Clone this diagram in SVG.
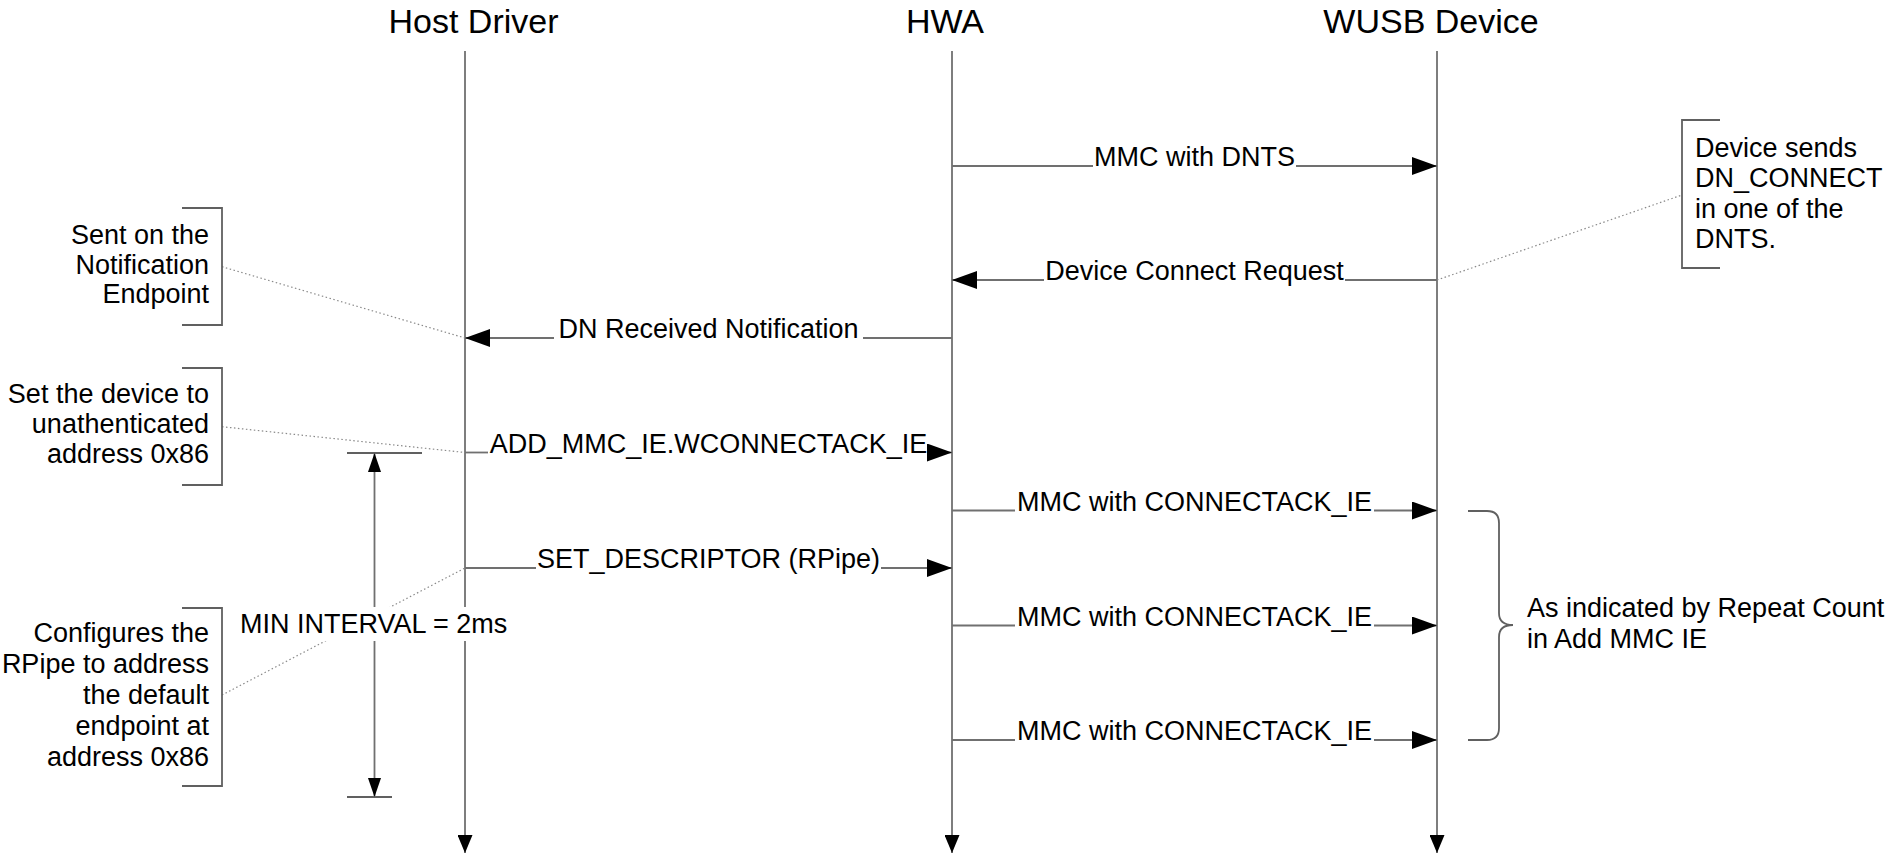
<svg xmlns="http://www.w3.org/2000/svg" width="1893" height="858" viewBox="0 0 1893 858">
<style>
text{font-family:"Liberation Sans",Arial,sans-serif;fill:#000}
.title{font-size:34px;text-anchor:middle}
.lbl{font-size:27px;text-anchor:middle}
.note{font-size:27px}
.nr{text-anchor:end}
.life{stroke:#707070;stroke-width:1.8;fill:none}
.msg{stroke:#707070;stroke-width:1.8;fill:none}
.brk{stroke:#606060;stroke-width:1.8;fill:none}
.lead{stroke:#8a8a8a;stroke-width:1.2;stroke-dasharray:1.5 2.5;fill:none}
</style>
<defs>
<marker id="ah" viewBox="0 0 25 18" refX="25" refY="9" markerWidth="25" markerHeight="18" markerUnits="userSpaceOnUse" orient="auto"><path d="M0,0 L25,9 L0,18 z" fill="#000"/></marker>
<marker id="lah" viewBox="0 0 18 15" refX="18" refY="7.5" markerWidth="18" markerHeight="15" markerUnits="userSpaceOnUse" orient="auto"><path d="M0,0 L18,7.5 L0,15 z" fill="#000"/></marker>
<marker id="iah" viewBox="0 0 19 13" refX="19" refY="6.5" markerWidth="19" markerHeight="13" markerUnits="userSpaceOnUse" orient="auto-start-reverse"><path d="M0,0 L19,6.5 L0,13 z" fill="#000"/></marker>
</defs>
<rect width="1893" height="858" fill="#fff"/>

<g id="host-driver">
<text class="title" x="473.5" y="33">Host Driver</text>
<line class="life" x1="465" y1="51" x2="465" y2="853" marker-end="url(#lah)"/>
</g>
<g id="hwa">
<text class="title" x="945" y="33">HWA</text>
<line class="life" x1="952" y1="51" x2="952" y2="853" marker-end="url(#lah)"/>
</g>
<g id="wusb-device">
<text class="title" x="1431" y="33">WUSB Device</text>
<line class="life" x1="1437" y1="51" x2="1437" y2="853" marker-end="url(#lah)"/>
</g>

<g id="leaders">
<line class="lead" x1="222" y1="266.7" x2="465" y2="338"/>
<line class="lead" x1="222" y1="426.7" x2="465" y2="452.5"/>
<line class="lead" x1="222" y1="695" x2="465" y2="568"/>
<line class="lead" x1="1437" y1="280" x2="1682" y2="195"/>
</g>

<g id="connectors">
<line class="msg" x1="952" y1="166" x2="1093" y2="166"/>
<line class="msg" x1="1296" y1="166" x2="1437" y2="166" marker-end="url(#ah)"/>
<text class="lbl" x="1194.5" y="166">MMC with DNTS</text>

<line class="msg" x1="1437" y1="280" x2="1345" y2="280"/>
<line class="msg" x1="1044" y1="280" x2="952" y2="280" marker-end="url(#ah)"/>
<text class="lbl" x="1194.5" y="280">Device Connect Request</text>

<line class="msg" x1="952" y1="338" x2="863" y2="338"/>
<line class="msg" x1="554" y1="338" x2="465" y2="338" marker-end="url(#ah)"/>
<text class="lbl" x="708.5" y="338">DN Received Notification</text>

<line class="msg" x1="465" y1="452.5" x2="488" y2="452.5"/>
<line class="msg" x1="929" y1="452.5" x2="952" y2="452.5" marker-end="url(#ah)"/>
<text class="lbl" x="708.5" y="452.5">ADD_MMC_IE.WCONNECTACK_IE</text>

<line class="msg" x1="952" y1="510.5" x2="1015" y2="510.5"/>
<line class="msg" x1="1374" y1="510.5" x2="1437" y2="510.5" marker-end="url(#ah)"/>
<text class="lbl" x="1194.5" y="510.5">MMC with CONNECTACK_IE</text>

<line class="msg" x1="465" y1="568" x2="536" y2="568"/>
<line class="msg" x1="881" y1="568" x2="952" y2="568" marker-end="url(#ah)"/>
<text class="lbl" x="708.5" y="568">SET_DESCRIPTOR (RPipe)</text>

<line class="msg" x1="952" y1="625.5" x2="1015" y2="625.5"/>
<line class="msg" x1="1374" y1="625.5" x2="1437" y2="625.5" marker-end="url(#ah)"/>
<text class="lbl" x="1194.5" y="625.5">MMC with CONNECTACK_IE</text>

<line class="msg" x1="952" y1="740" x2="1015" y2="740"/>
<line class="msg" x1="1374" y1="740" x2="1437" y2="740" marker-end="url(#ah)"/>
<text class="lbl" x="1194.5" y="740">MMC with CONNECTACK_IE</text>
</g>

<g id="note-notification">
<path class="brk" d="M182,208 H222 V325 H182"/>
<text class="note nr" x="209" y="244">Sent on the</text>
<text class="note nr" x="209" y="273.5">Notification</text>
<text class="note nr" x="209" y="303">Endpoint</text>
</g>
<g id="note-unauth">
<path class="brk" d="M182,368 H222 V485 H182"/>
<text class="note nr" x="209" y="403">Set the device to</text>
<text class="note nr" x="209" y="433">unathenticated</text>
<text class="note nr" x="209" y="463">address 0x86</text>
</g>
<g id="note-rpipe">
<path class="brk" d="M182,608 H222 V786 H182"/>
<text class="note nr" x="209" y="642">Configures the</text>
<text class="note nr" x="209" y="673">RPipe to address</text>
<text class="note nr" x="209" y="704">the default</text>
<text class="note nr" x="209" y="735">endpoint at</text>
<text class="note nr" x="209" y="766">address 0x86</text>
</g>
<g id="note-dnconnect">
<path class="brk" d="M1720,120 H1682 V268 H1720"/>
<text class="note" x="1695" y="157">Device sends</text>
<text class="note" x="1695" y="187.3">DN_CONNECT</text>
<text class="note" x="1695" y="217.6">in one of the</text>
<text class="note" x="1695" y="248">DNTS.</text>
</g>
<g id="note-repeat">
<path class="brk" d="M1468,511 H1487 Q1499,511 1499,523 V613 Q1499,625 1513,625 Q1499,625 1499,637 V728 Q1499,740 1487,740 H1468"/>
<text class="note" x="1527" y="617">As indicated by Repeat Count</text>
<text class="note" x="1527" y="648">in Add MMC IE</text>
</g>
<g id="min-interval">
<line class="brk" x1="347" y1="453" x2="422" y2="453"/>
<line class="brk" x1="347" y1="797" x2="392" y2="797"/>
<line class="msg" x1="374.5" y1="453" x2="374.5" y2="797" marker-start="url(#iah)" marker-end="url(#iah)"/>
<rect x="238" y="607" width="274" height="34" fill="#fff"/>
<text class="note" x="240" y="633">MIN INTERVAL = 2ms</text>
</g>
</svg>
